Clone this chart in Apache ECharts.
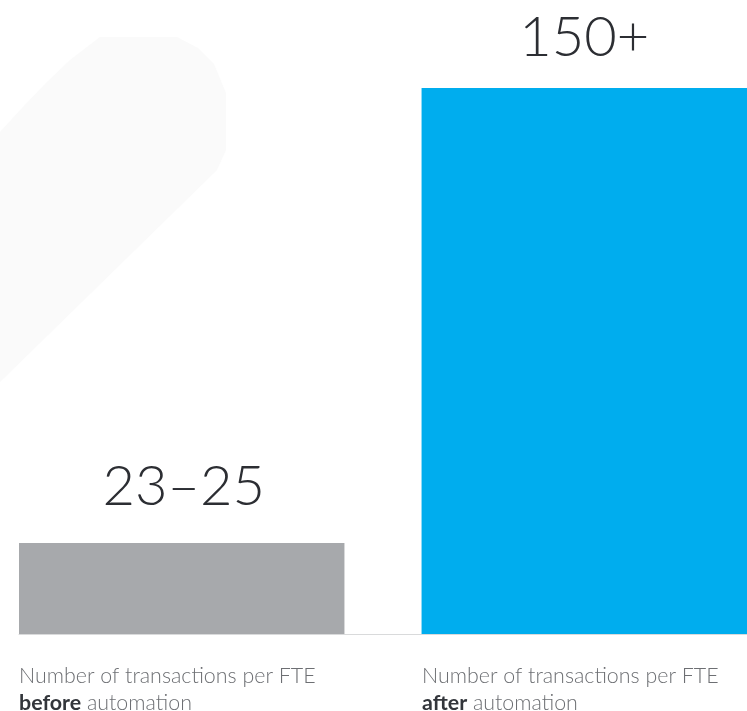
<!DOCTYPE html>
<html>
<head>
<meta charset="utf-8">
<script src="https://cdn.jsdelivr.net/npm/echarts@6/dist/echarts.min.js"></script>
<style>
  html, body { margin: 0; padding: 0; background: #ffffff; }
  #chart { width: 747px; height: 711px; }
</style>
</head>
<body>
<div id="chart"></div>
<script>
// ---- data ----
const categories = ['before', 'after'];
const values = [25, 150];
const valueLabels = ['23–25', '150+'];
const labelPrefix = 'Number of transactions per FTE';
const labelSuffix = 'automation';
const axisMax = 150;

// ---- chart ----
const chart = echarts.init(document.getElementById('chart'), null, { renderer: 'canvas' });
const FONT = 'Lato, "Open Sans", sans-serif';
const richB = { fontFamily: FONT, fontWeight: 700, fontSize: 21.4, lineHeight: 27, color: '#33363b' };

const catData = categories.map((c, i) => ({
  value: c,
  textStyle: {
    align: 'left',
    verticalAlign: 'top',
    fontFamily: FONT,
    fontWeight: 300,
    fontSize: 21.4,
    lineHeight: 27,
    color: '#6d6f73',
    padding: i === 0 ? [0, 0, 0, -182] : [0, 0, 0, -143],
    rich: { b: richB }
  }
}));

chart.setOption({
  animation: false,
  backgroundColor: '#ffffff',
  graphic: [{
    type: 'polygon',
    silent: true,
    z: -10,
    shape: {
      points: [[0, 132], [22, 108], [45, 84], [70, 60], [100, 37], [177, 37], [198, 48], [214, 64], [226, 93], [226, 150], [217, 170], [0, 382]]
    },
    style: { fill: '#fafafa' }
  }],
  grid: { left: 19, right: 0, top: 88, bottom: 77, containLabel: false, outerBoundsMode: 'none' },
  xAxis: {
    type: 'category',
    data: catData,
    axisLine: { show: true, lineStyle: { color: '#d9dadb', width: 1 } },
    axisTick: { show: false },
    axisLabel: {
      interval: 0,
      margin: 29,
      align: 'left',
      verticalAlign: 'top',
      hideOverlap: false,
      fontFamily: FONT,
      fontWeight: 300,
      fontSize: 21.4,
      lineHeight: 27,
      color: '#6d6f73',
      formatter: (v) => labelPrefix + '\n{b|' + v + '} ' + labelSuffix,
      rich: { b: richB }
    }
  },
  yAxis: { type: 'value', min: 0, max: axisMax, show: false, splitLine: { show: false } },
  series: [
    {
      type: 'bar',
      name: 'before',
      data: [values[0], '-'],
      barWidth: 326,
      barGap: '-88%',
      itemStyle: { color: '#a7a9ac' },
      label: {
        show: true, position: 'top', distance: 26, offset: [2, 0],
        formatter: () => valueLabels[0],
        fontFamily: FONT, fontWeight: 300, fontSize: 56, lineHeight: 60, color: '#2c2e33'
      }
    },
    {
      type: 'bar',
      name: 'after',
      data: ['-', values[1]],
      barWidth: 326,
      barGap: '-88%',
      itemStyle: { color: '#00adee' },
      label: {
        show: true, position: 'top', distance: 20,
        formatter: () => valueLabels[1],
        fontFamily: FONT, fontWeight: 300, fontSize: 56, lineHeight: 60, color: '#2c2e33'
      }
    }
  ]
});
</script>
</body>
</html>
